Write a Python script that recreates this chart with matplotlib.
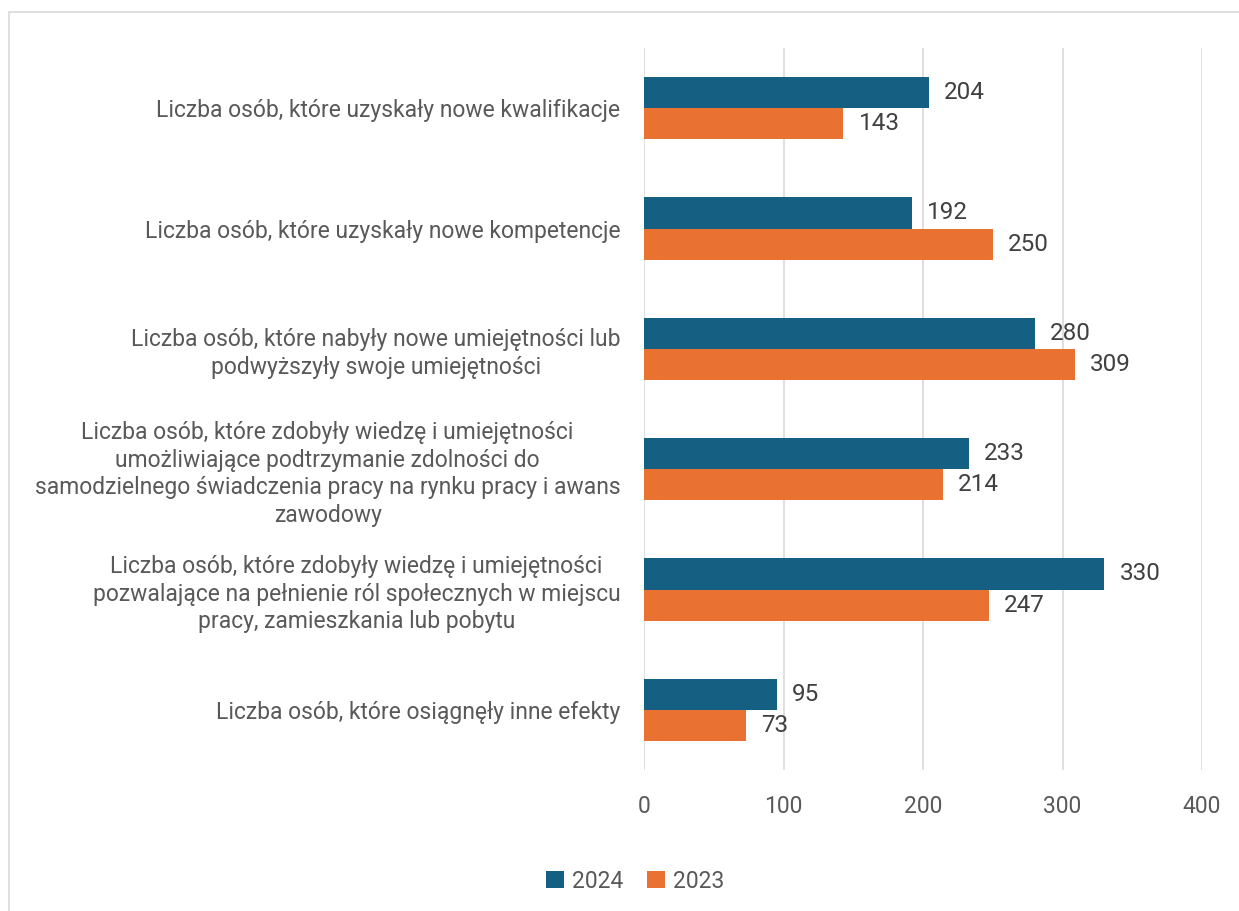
import matplotlib.pyplot as plt
import numpy as np
from matplotlib.patches import Rectangle

plt.rcParams['font.family'] = ['Roboto', 'DejaVu Sans']

categories = [
    'Liczba osób, które uzyskały nowe kwalifikacje',
    'Liczba osób, które uzyskały nowe kompetencje',
    'Liczba osób, które nabyły nowe umiejętności lub\npodwyższyły swoje umiejętności',
    'Liczba osób, które zdobyły wiedzę i umiejętności\numożliwiające podtrzymanie zdolności do\n'
    'samodzielnego świadczenia pracy na rynku pracy i awans\nzawodowy',
    'Liczba osób, które zdobyły wiedzę i umiejętności\npozwalające na pełnienie ról społecznych w miejscu\n'
    'pracy, zamieszkania lub pobytu',
    'Liczba osób, które osiągnęły inne efekty',
]
values_2024 = [204, 192, 280, 233, 330, 95]
values_2023 = [143, 250, 309, 214, 247, 73]
series_names = ['2024', '2023']
xticks = [0, 100, 200, 300, 400]

col_2024 = '#156082'
col_2023 = '#E97132'
text_col = '#595959'

fig = plt.figure(figsize=(12.39, 9.11), dpi=100)
ax = fig.add_axes([644 / 1239, 1 - 770 / 911, (1202 - 644) / 1239, (770 - 48) / 911])

# chart frame
fig.patches.append(Rectangle((9 / 1239, -0.05), 1.1, 1 - 12 / 911 + 0.05,
                             transform=fig.transFigure, fill=False,
                             edgecolor='#D9D9D9', lw=1.2))

y = np.arange(len(categories))
h = 0.26
b1 = ax.barh(y - h / 2, values_2024, height=h, color=col_2024, label=series_names[0])
b2 = ax.barh(y + h / 2, values_2023, height=h, color=col_2023, label=series_names[1])

for bars in (b1, b2):
    ax.bar_label(bars, padding=11, fontsize=17.5, color='#404040')

ax.set_xlim(0, 400)
ax.set_ylim(5.5, -0.5)
ax.set_xticks(xticks)
ax.set_yticks(y)
ax.set_yticklabels(categories, fontsize=16.5, color=text_col,
                   multialignment='center', linespacing=1.25)
ax.tick_params(axis='y', length=0, pad=17)
ax.tick_params(axis='x', length=0, pad=18, labelsize=16.5, labelcolor=text_col)
ax.grid(axis='x', color='#D9D9D9', lw=1.2)
ax.set_axisbelow(True)
for s in ax.spines.values():
    s.set_visible(False)

fig.legend(handles=[b1, b2], labels=series_names, loc='center',
           bbox_to_anchor=(635 / 1239, 1 - 881 / 911), ncol=2, frameon=False,
           fontsize=16.5, labelcolor=text_col, handlelength=0.8, handleheight=0.8,
           handletextpad=0.35, columnspacing=1.0)

fig.savefig('out.png', dpi=100)
